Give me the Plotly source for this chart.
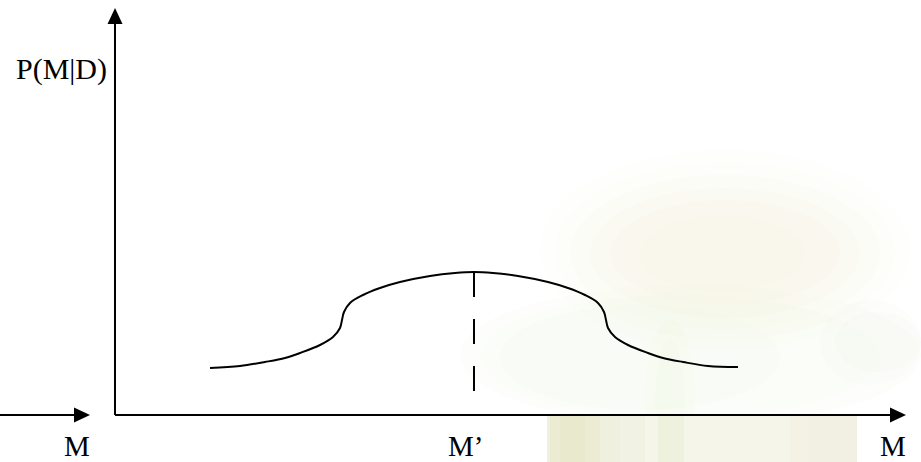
import plotly.graph_objects as go

# Posterior curve P(M|D) sampled along the model axis M (baseline at P = 0)
m_values = [210, 240, 265, 285, 300, 320, 333, 340, 342, 344, 350, 363, 380, 400,
            430, 455, 474,
            493, 518, 548, 568, 585, 598, 604, 606, 608, 615, 628, 648, 663, 683,
            708, 738]
p_values = [47, 49, 53, 57, 62, 70, 78, 87, 95, 103, 112, 120, 127, 133,
            139, 142, 143,
            142, 139, 133, 127, 120, 112, 103, 95, 87, 78, 70, 62, 57, 53,
            49, 48]

# Most probable model M' and the axis labels
m_peak = 474
p_peak = 143
dash_bottom = 23
axis_labels = ["M", "M’", "M"]
axis_label_x = [77, 465, 893]
y_label = "P(M|D)"

# Axis extents
x_min, x_max = 0, 921
y_min, y_max = -47, 415
y_axis_x = 115
x_axis_end = 906
y_axis_top = 407
left_arrow_end = 90
head_len, head_half = 16, 7.5

fig = go.Figure()


def px_y(v):
    """Convert a distance from the top edge into the vertical axis unit."""
    return y_max - v


# Faint watermark behind the diagram: soft cream and green patches
soft_patches = [
    # (x0, x1, top, bottom, colour, opacity)
    (540, 910, 150, 350, "#e4e2bc", 0.05),
    (555, 895, 162, 340, "#e4e2bc", 0.05),
    (570, 880, 175, 330, "#e4e2bc", 0.05),
    (590, 860, 188, 318, "#e2e0b6", 0.05),
    (610, 840, 200, 305, "#e2e0b6", 0.05),
    (640, 805, 215, 292, "#e0deb2", 0.04),
    (460, 921, 285, 425, "#e0e8c4", 0.05),
    (480, 880, 295, 418, "#e0e8c4", 0.05),
    (500, 780, 305, 410, "#e0e8c4", 0.05),
    (820, 921, 300, 385, "#e2e2cc", 0.06),
    (835, 921, 312, 372, "#e2e2cc", 0.06),
    (645, 695, 320, 470, "#dee6c0", 0.06),
    (655, 685, 340, 470, "#dee6c0", 0.06),
]
for x0, x1, top, bottom, colour, op in soft_patches:
    fig.add_shape(type="circle", xref="x", yref="y", x0=x0, x1=x1,
                  y0=px_y(bottom), y1=px_y(top), fillcolor=colour, opacity=op,
                  line_width=0, layer="below")

strip = [
    # (x0, x1, colour, opacity)
    (547, 857, "#f5f5ea", 1.0),
    (547, 620, "#e3e3bd", 0.25),
    (550, 600, "#dcdcae", 0.2),
    (560, 585, "#dcdcae", 0.15),
    (620, 645, "#e8e8cb", 0.2),
    (658, 684, "#e2e8c6", 0.3),
    (790, 857, "#eeeadb", 0.3),
    (810, 857, "#eeeadb", 0.25),
]
for x0, x1, colour, op in strip:
    fig.add_shape(type="rect", xref="x", yref="y", x0=x0, x1=x1, y0=y_min, y1=-1,
                  fillcolor=colour, opacity=op, line_width=0, layer="below")

# Axes with arrowheads
axis_line = dict(color="black", width=2)
fig.add_shape(type="line", x0=y_axis_x, x1=y_axis_x, y0=0, y1=y_axis_top - head_len + 2,
              line=axis_line)
fig.add_shape(type="line", x0=y_axis_x, x1=x_axis_end - head_len + 2, y0=0, y1=0,
              line=axis_line)
fig.add_shape(type="line", x0=x_min, x1=left_arrow_end - head_len + 2, y0=0, y1=0,
              line=axis_line)


def head_right(tip_x, y):
    return (f"M {tip_x} {y} L {tip_x - head_len} {y + head_half} "
            f"L {tip_x - head_len} {y - head_half} Z")


def head_up(x, tip_y):
    return (f"M {x} {tip_y} L {x - head_half} {tip_y - head_len} "
            f"L {x + head_half} {tip_y - head_len} Z")


for path in (head_right(x_axis_end, 0), head_right(left_arrow_end, 0),
             head_up(y_axis_x, y_axis_top)):
    fig.add_shape(type="path", path=path, fillcolor="black", line_width=0)

# Posterior curve
fig.add_trace(go.Scatter(x=m_values, y=p_values, mode="lines",
                         line=dict(color="black", width=2, shape="spline", smoothing=1.0),
                         hoverinfo="skip"))

# Dashed marker at the peak M'
fig.add_trace(go.Scatter(x=[m_peak, m_peak], y=[p_peak, dash_bottom], mode="lines",
                         line=dict(color="black", width=2, dash="25px,22px"),
                         hoverinfo="skip"))

serif = "Liberation Serif, Times New Roman, serif"
for text, lx in zip(axis_labels, axis_label_x):
    fig.add_annotation(x=lx, y=-31, text=text, showarrow=False,
                       font=dict(family=serif, size=29, color="black"),
                       xanchor="center", yanchor="middle")
fig.add_annotation(x=61, y=346, text=y_label, showarrow=False,
                   font=dict(family=serif, size=30, color="black"),
                   xanchor="center", yanchor="middle")

fig.update_layout(
    width=921, height=462, margin=dict(l=0, r=0, t=0, b=0),
    paper_bgcolor="white", plot_bgcolor="white", showlegend=False,
    xaxis=dict(range=[x_min, x_max], visible=False, fixedrange=True),
    yaxis=dict(range=[y_min, y_max], visible=False, fixedrange=True),
)

fig.write_html("out.html")
